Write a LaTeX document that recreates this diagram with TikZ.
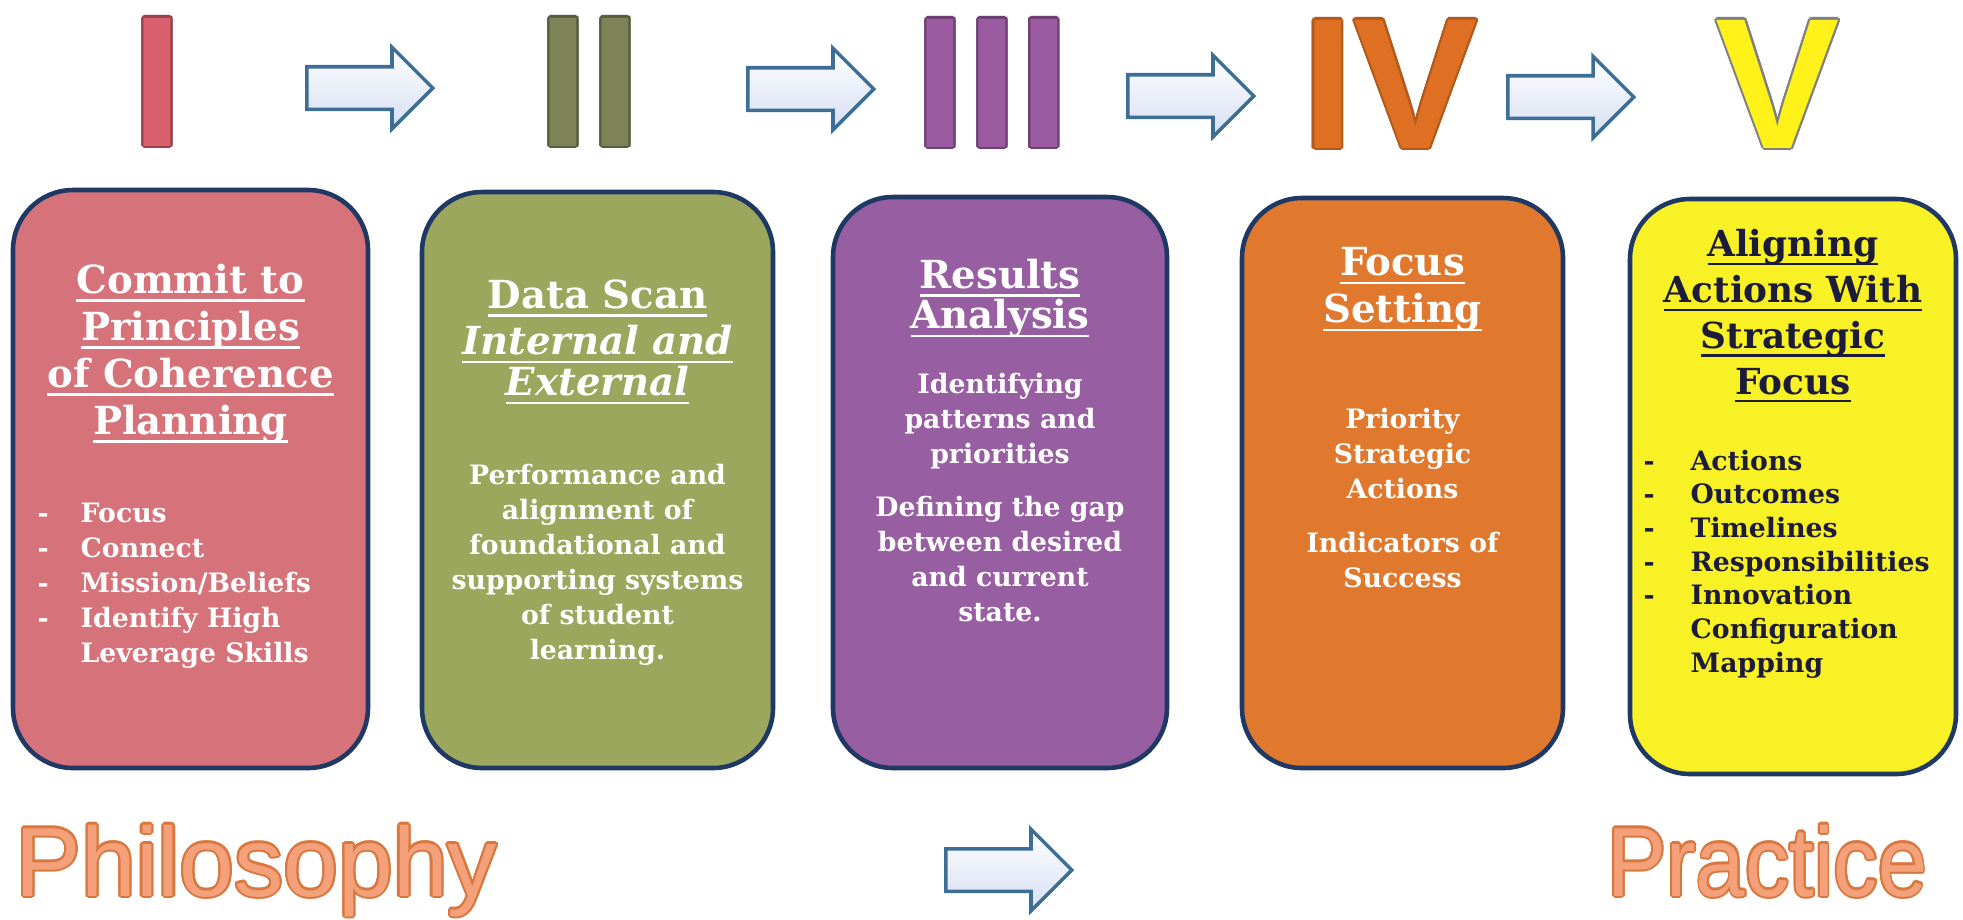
\documentclass[tikz,border=0pt]{standalone}
\usepackage{fontspec}
\setmainfont{DejaVu Serif}
\newfontfamily\numfont{Liberation Sans}
\usepackage[copies]{contour}
\usetikzlibrary{shapes.arrows}

\definecolor{navy}{HTML}{1F3864}
\definecolor{redbox}{HTML}{D6737A}
\definecolor{greenbox}{HTML}{9AA75D}
\definecolor{purplebox}{HTML}{985EA2}
\definecolor{orangebox}{HTML}{E0792E}
\definecolor{yellowbox}{HTML}{F8F126}
\definecolor{rednum}{HTML}{D9606C}
\definecolor{greennum}{HTML}{7E8257}
\definecolor{purplenum}{HTML}{9A5BA0}
\definecolor{orangenum}{HTML}{DF6F22}
\definecolor{yellownum}{HTML}{FFF21A}
\definecolor{arrowline}{HTML}{3C6E96}
\definecolor{arrowfill}{HTML}{D6DEF2}
\definecolor{salmon}{HTML}{F4A07A}
\definecolor{salmonedge}{HTML}{D9783E}
\definecolor{darktext}{HTML}{1C1C3A}

\newcommand{\ttlfont}{\fontsize{11}{13.4}\selectfont\bfseries}
\newcommand{\txtfont}{\fontsize{7.6}{10}\selectfont\bfseries}
\newcommand{\uln}[1]{\setbox0=\hbox{#1}\rlap{\rule[-2.4pt]{\wd0}{0.7pt}}\box0}
\newcommand{\itemdash}[1][4.3mm]{\makebox[#1][l]{-}}
\contourlength{0.6pt}

\begin{document}
\begin{tikzpicture}[x=0.1mm,y=-0.1mm,
	stagebox/.style={draw=navy, line width=1.3pt, rounded corners=6mm, inner sep=0pt},
	ttl/.style={text=white, font=\ttlfont, align=center, inner sep=0pt, anchor=north},
	txt/.style={text=white, font=\txtfont, align=center, inner sep=0pt, anchor=north},
	lst/.style={text=white, font=\txtfont, align=left, inner sep=0pt, anchor=north west},
	numeral/.style={font=\numfont\bfseries\fontsize{53}{53}\selectfont, inner sep=0pt, anchor=base},
	bigword/.style={font=\numfont\fontsize{28}{28}\selectfont, text=salmon, inner sep=0pt},
	blockarrow/.style={single arrow, draw=arrowline, line width=1pt, top color=white,
		bottom color=arrowfill, minimum height=12.6mm, inner xsep=0pt, inner ysep=1.95mm,
		single arrow head extend=1.95mm, single arrow head indent=0pt, anchor=tail}]
	\fill[white] (0,0) rectangle (1963,919);
	\useasboundingbox (0,0) rectangle (1963,919);

	% numerals
	\node[numeral, text=rednum] (num1) at (157.5,146) {\contour{rednum!70!black}{I}};
	\node[numeral, text=greennum] (num2) at (589.5,146) {\contour{greennum!70!black}{II}};
	\node[numeral, text=purplenum] (num3) at (992.5,147) {\contour{purplenum!70!black}{III}};
	\node[numeral, text=orangenum] (num4) at (1390,148) {\contour{orangenum!80!black}{IV}};
	\node[numeral, text=yellownum] (num5) at (1778,148) {\contour{gray}{V}};

	% arrows between the numerals
	\node[blockarrow] (arr1) at (305,88) {};
	\node[blockarrow] (arr2) at (746,89) {};
	\node[blockarrow] (arr3) at (1126,96) {};
	\node[blockarrow] (arr4) at (1506,97) {};

	% stages
	\node[stagebox, fill=redbox, minimum width=35.5mm, minimum height=57.8mm] (box1) at (190.5,479) {};
	\node[stagebox, fill=greenbox, minimum width=35.1mm, minimum height=57.6mm] (box2) at (597.5,480) {};
	\node[stagebox, fill=purplebox, minimum width=33.4mm, minimum height=57.1mm] (box3) at (1000,482.5) {};
	\node[stagebox, fill=orangebox, minimum width=32.1mm, minimum height=57mm] (box4) at (1402.5,483) {};
	\node[stagebox, fill=yellowbox, minimum width=32.6mm, minimum height=57.5mm] (box5) at (1793,486.5) {};

	\node[ttl] (ttl1) at (190.5,263) {\uln{Commit to}\\\uln{Principles}\\\uln{of Coherence}\\\uln{Planning}};
	\node[lst] (lst1) at (37,502) {\itemdash Focus\\\itemdash Connect\\\itemdash Mission/Beliefs\\
		\itemdash Identify High\\\hspace*{4.3mm}Leverage Skills};

	\node[ttl, font=\fontsize{11}{11.7}\selectfont\bfseries] (ttl2) at (597.5,279)
		{\uln{Data Scan}\\[1.5pt]\itshape\uln{Internal and}\\\itshape\uln{External}};
	\node[txt] (txt2) at (597.5,463) {Performance and\\alignment of\\foundational and\\supporting systems\\of student\\learning.};

	\node[ttl, font=\fontsize{11}{11.6}\selectfont\bfseries] (ttl3) at (1000,258) {\uln{Results}\\\uln{Analysis}};
	\node[txt] (txt3) at (1000,372) {Identifying\\patterns and\\priorities\\[5pt]Defining the gap\\between desired\\and current\\state.};

	\node[ttl] (ttl4) at (1402.5,247) {\uln{Focus}\\\uln{Setting}};
	\node[txt] (txt4) at (1402.5,407) {Priority\\Strategic\\Actions\\[5.5pt]Indicators of\\Success};

	\node[ttl, text=darktext, font=\fontsize{10.2}{13}\selectfont\bfseries] (ttl5) at (1793,229)
		{\uln{Aligning}\\\uln{Actions With}\\\uln{Strategic}\\\uln{Focus}};
	\node[lst, text=darktext, font=\fontsize{7.6}{9.6}\selectfont\bfseries] (lst5) at (1643,449)
		{\itemdash[4.7mm]Actions\\\itemdash[4.7mm]Outcomes\\\itemdash[4.7mm]Timelines\\
		\itemdash[4.7mm]Responsibilities\\\itemdash[4.7mm]Innovation\\
		\hspace*{4.7mm}Configuration\\\hspace*{4.7mm}Mapping};

	% bottom line
	\node[bigword, anchor=base west] (philo) at (15,896) {\contour{salmonedge}{Philosophy}};
	\node[blockarrow] (arrbot) at (944,870) {};
	\node[bigword, anchor=base east] (pract) at (1928,896) {\scalebox{0.9}[1]{\contour{salmonedge}{Practice}}};
\end{tikzpicture}
\end{document}
